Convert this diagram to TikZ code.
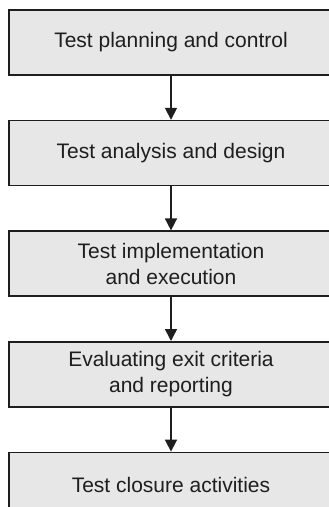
\documentclass[tikz,border=0pt]{standalone}
\usepackage{fontspec}
\setmainfont{Liberation Sans}
\usetikzlibrary{arrows.meta,positioning}
\definecolor{boxgray}{HTML}{E7E7E7}
\definecolor{inkgray}{HTML}{1E1E1E}
\tikzset{phase/.style={
    % The shape:
    rectangle,
    % The size:
    minimum width=324pt,
    minimum height=65pt,
    % The border:
    line width=1.6pt,
    draw=inkgray,
    % The filling:
    fill=boxgray,
    % Font
    align=center,
    text=inkgray,
    font=\fontsize{21}{26}\selectfont
    },
    flow/.style={
    line width=1.6pt,
    draw=inkgray,
    -{Triangle[width=12pt,length=12pt]},
    },
}

\begin{document}
\begin{tikzpicture}[x=1pt,y=1pt,node distance = 44pt and 0pt]
    \useasboundingbox (0,0) rectangle (329,-507);
    \clip (0,0) rectangle (329,-507);

    \node (planning)  [phase] at (171,-42.5)       {Test planning and control};
    \node (analysis)  [phase,below=of planning]    {Test analysis and design};
    \node (implement) [phase,below=of analysis]    {Test implementation\\and execution};
    \node (exit)      [phase,below=of implement]   {Evaluating exit criteria\\and reporting};
    \node (closure)   [phase,below=of exit]        {Test closure activities};

    \draw[flow] (planning) -- (analysis);
    \draw[flow] (analysis) -- (implement);
    \draw[flow] (implement) -- (exit);
    \draw[flow] (exit) -- (closure);
  \end{tikzpicture}
\end{document}
